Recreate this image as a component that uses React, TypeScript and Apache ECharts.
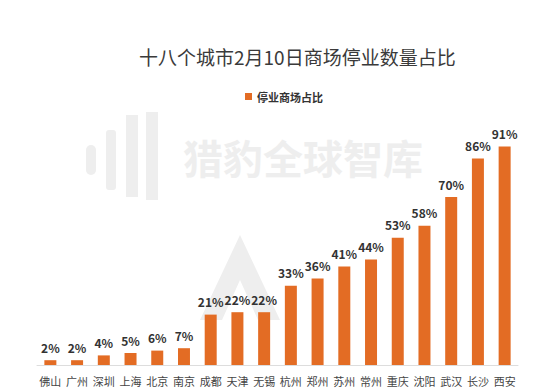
import React, { useEffect, useRef } from "react";
import * as echarts from "echarts";

const categories = ["佛山", "广州", "深圳", "上海", "北京", "南京", "成都", "天津", "无锡", "杭州", "郑州", "苏州", "常州", "重庆", "沈阳", "武汉", "长沙", "西安"];
const closedShare = [2, 2, 4, 5, 6, 7, 21, 22, 22, 33, 36, 41, 44, 53, 58, 70, 86, 91];
const seriesName = "停业商场占比";
const titleText = "十八个城市2月10日商场停业数量占比";
const watermarkText = "猎豹全球智库";

export default function App() {
  const ref = useRef<HTMLDivElement>(null);
  useEffect(() => {
    if (!ref.current) return;
    const chart = echarts.init(ref.current, undefined, { renderer: "svg" });
    const font = "'Noto Sans CJK SC', 'Noto Sans', sans-serif";
    chart.setOption({
      animation: false,
      backgroundColor: "#ffffff",
      title: {
        text: titleText,
        left: 134,
        top: 42,
        textStyle: { fontSize: 19, fontWeight: "normal", color: "#3a3a3a", fontFamily: font },
      },
      legend: {
        data: [seriesName],
        top: 86,
        left: 240,
        itemWidth: 7,
        itemHeight: 7,
        icon: "rect",
        itemGap: 4,
        textStyle: { fontSize: 11, fontWeight: "bold", color: "#333", fontFamily: font },
      },
      graphic: [
        {
          type: "text",
          left: 183,
          top: 137,
          z: -1,
          style: { text: watermarkText, fontSize: 40, fontWeight: "bold", fill: "#eeeeee", fontFamily: font },
        },
        { type: "rect", shape: { x: 86, y: 145, width: 10, height: 30, r: 5 }, style: { fill: "#eeeeee" }, z: -1 },
        { type: "rect", shape: { x: 106, y: 130, width: 10, height: 60, r: 3 }, style: { fill: "#eeeeee" }, z: -1 },
        { type: "rect", shape: { x: 126, y: 115, width: 12, height: 82 }, style: { fill: "#eeeeee" }, z: -1 },
        { type: "rect", shape: { x: 146, y: 112, width: 12, height: 88 }, style: { fill: "#eeeeee" }, z: -1 },
        { type: "polygon", shape: { points: [[240, 235], [200, 320], [222, 320], [240, 280], [258, 320], [280, 320]] }, style: { fill: "#eeeeee" }, z: -1 },
      ],
      grid: { left: 37, right: 36, top: 125, bottom: 26 },
      xAxis: {
        type: "category",
        data: categories,
        axisLine: { lineStyle: { color: "#dddddd" } },
        axisTick: { show: false },
        axisLabel: { fontSize: 11, color: "#444", margin: 10, interval: 0, fontFamily: font },
      },
      yAxis: {
        type: "value",
        min: 0,
        max: 100,
        show: false,
        splitLine: { show: false },
      },
      series: [
        {
          name: seriesName,
          type: "bar",
          data: closedShare,
          barWidth: 12,
          itemStyle: { color: "#E36C24" },
          label: {
            show: true,
            position: "top",
            distance: 7,
            formatter: "{c}%",
            fontSize: 12,
            fontWeight: "bold",
            color: "#333",
            fontFamily: font,
          },
        },
      ],
    });
    return () => chart.dispose();
  }, []);
  return <div ref={ref} style={{ width: 554, height: 391, position: "absolute", left: 0, top: 0 }} />;
}
